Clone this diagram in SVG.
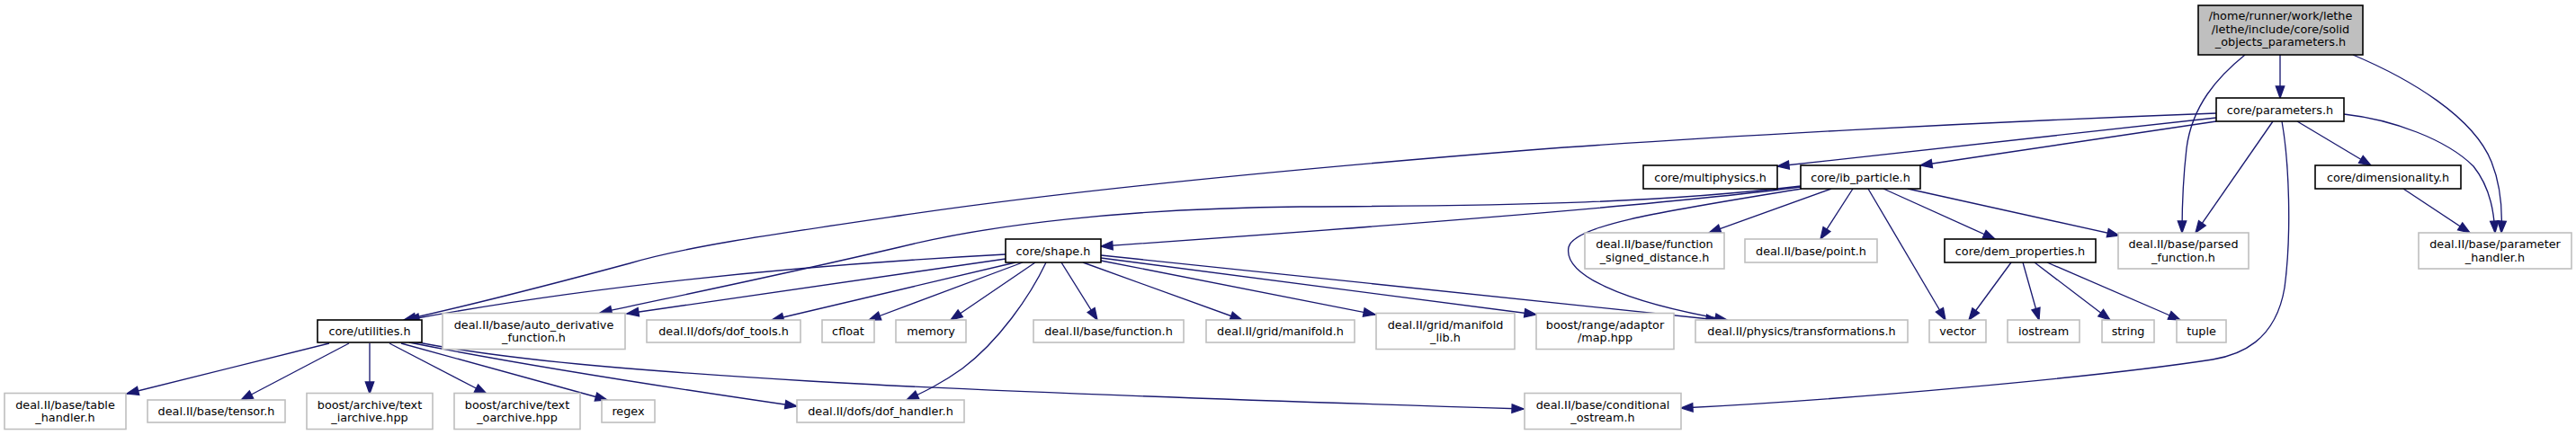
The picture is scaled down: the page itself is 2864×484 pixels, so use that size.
<svg xmlns="http://www.w3.org/2000/svg" width="2864" height="484" viewBox="0 0 2864 484">
<defs>
<marker id="ah" markerUnits="userSpaceOnUse" markerWidth="16" markerHeight="12" refX="13" refY="5" orient="auto" overflow="visible">
<path d="M0,0.3 L13,5 L0,9.7 z" fill="#191970" stroke="#191970" stroke-width="1.3"/>
</marker>
</defs>
<style>
.e{fill:none;stroke:#191970;stroke-width:1.33;marker-end:url(#ah)}
.loc{fill:#ffffff;stroke:#000000;stroke-width:1.6}
.ext{fill:#ffffff;stroke:#bfbfbf;stroke-width:1.6}
.root{fill:#bfbfbf;stroke:#000000;stroke-width:1.6}
text{font-family:"DejaVu Sans","Liberation Sans",sans-serif;font-size:12.8px;fill:#000;text-anchor:middle}
</style>
<rect x="0" y="0" width="2864" height="484" fill="#ffffff"/>
<g id="edges">
<path class="e" d="M2535,61 L2535,109"/>
<path class="e" d="M2496,61 C2465,86 2437,118 2431,165 C2427,200 2426,235 2426,259"/>
<path class="e" d="M2616,61 C2680,88 2750,130 2770,180 C2782,210 2782,240 2781,259"/>
<path class="e" d="M2606,127 C2660,133 2720,155 2750,185 C2770,210 2773,240 2774,259"/>
<path class="e" d="M2554,135 L2636,184"/>
<path class="e" d="M2527,135 L2441,259"/>
<path class="e" d="M2537,135 C2545,180 2548,260 2540,320 C2530,380 2490,395 2460,400 C2330,420 2050,445 1869,454"/>
<path class="e" d="M2464,126 C2200,136 1900,152 1700,167 C1450,187 1200,210 1000,240 C850,262 760,275 700,293 C600,320 520,340 449,356"/>
<path class="e" d="M2464,131 L1976,185"/>
<path class="e" d="M2464,135 L2135,184"/>
<path class="e" d="M2672,210 L2746,259"/>
<path class="e" d="M2002,208 C1850,228 1500,255 1224,274"/>
<path class="e" d="M2002,207 C1850,225 1700,229 1446,230 C1250,232 1100,250 1000,275 C850,310 750,330 667,348"/>
<path class="e" d="M2003,210 C1850,235 1750,250 1744,275 C1738,305 1800,335 1920,356"/>
<path class="e" d="M2036,210 L1900,259"/>
<path class="e" d="M2060,210 L2024,266"/>
<path class="e" d="M2077,210 L2163,356"/>
<path class="e" d="M2094,210 L2218,266"/>
<path class="e" d="M2121,210 L2356,262"/>
<path class="e" d="M1118,283 C950,292 700,310 453,356"/>
<path class="e" d="M1118,288 L697,349"/>
<path class="e" d="M1129,292 L858,356"/>
<path class="e" d="M1137,292 L966,356"/>
<path class="e" d="M1151,292 L1057,356"/>
<path class="e" d="M1163,292 C1145,330 1110,380 1070,410 C1045,428 1025,437 1008,445"/>
<path class="e" d="M1180,292 L1220,356"/>
<path class="e" d="M1204,292 L1381,356"/>
<path class="e" d="M1224,290 L1529,350"/>
<path class="e" d="M1224,287 L1708,350"/>
<path class="e" d="M1224,284 L1910,356"/>
<path class="e" d="M366,382 L141,438"/>
<path class="e" d="M388,382 L268,445"/>
<path class="e" d="M411,382 L411,438"/>
<path class="e" d="M433,382 L541,438"/>
<path class="e" d="M446,382 L675,445"/>
<path class="e" d="M455,381 C550,400 700,425 886,452"/>
<path class="e" d="M460,380 C560,400 700,412 900,424 C1100,436 1400,446 1694,455"/>
<path class="e" d="M2236,292 L2189,356"/>
<path class="e" d="M2249,292 L2267,356"/>
<path class="e" d="M2262,292 L2346,356"/>
<path class="e" d="M2276,292 L2424,356"/>
</g>
<g id="n_root"><rect class="root" x="2444" y="6" width="183" height="55"/><text x="2535.5" y="22">/home/runner/work/lethe</text><text x="2535.5" y="36.7">/lethe/include/core/solid</text><text x="2535.5" y="51.4">_objects_parameters.h</text></g>
<g id="n_parameters"><rect class="loc" x="2464" y="109" width="142" height="26"/><text x="2535" y="126.5">core/parameters.h</text></g>
<g id="n_multiphysics"><rect class="loc" x="1827" y="184" width="149" height="26"/><text x="1901.5" y="201.5">core/multiphysics.h</text></g>
<g id="n_ib_particle"><rect class="loc" x="2002" y="184" width="133" height="26"/><text x="2068.5" y="201.5">core/ib_particle.h</text></g>
<g id="n_dimensionality"><rect class="loc" x="2574" y="184" width="162" height="26"/><text x="2655" y="201.5">core/dimensionality.h</text></g>
<g id="n_shape"><rect class="loc" x="1118" y="266" width="106" height="26"/><text x="1171" y="283.5">core/shape.h</text></g>
<g id="n_function_signed_distance"><rect class="ext" x="1762" y="259" width="155" height="40"/><text x="1839.5" y="276.2">deal.II/base/function</text><text x="1839.5" y="290.9">_signed_distance.h</text></g>
<g id="n_point"><rect class="ext" x="1940" y="266" width="147" height="26"/><text x="2013.5" y="283.5">deal.II/base/point.h</text></g>
<g id="n_dem_properties"><rect class="loc" x="2162" y="266" width="168" height="26"/><text x="2246" y="283.5">core/dem_properties.h</text></g>
<g id="n_parsed_function"><rect class="ext" x="2355" y="259" width="145" height="40"/><text x="2427.5" y="276.2">deal.II/base/parsed</text><text x="2427.5" y="290.9">_function.h</text></g>
<g id="n_parameter_handler"><rect class="ext" x="2689" y="259" width="170" height="40"/><text x="2774" y="276.2">deal.II/base/parameter</text><text x="2774" y="290.9">_handler.h</text></g>
<g id="n_utilities"><rect class="loc" x="353" y="356" width="116" height="25"/><text x="411" y="373">core/utilities.h</text></g>
<g id="n_auto_derivative"><rect class="ext" x="492" y="348.5" width="203" height="40"/><text x="593.5" y="365.7">deal.II/base/auto_derivative</text><text x="593.5" y="380.4">_function.h</text></g>
<g id="n_dof_tools"><rect class="ext" x="719" y="356" width="171" height="25"/><text x="804.5" y="373">deal.II/dofs/dof_tools.h</text></g>
<g id="n_cfloat"><rect class="ext" x="914" y="356" width="58" height="25"/><text x="943" y="373">cfloat</text></g>
<g id="n_memory"><rect class="ext" x="996" y="356" width="78" height="25"/><text x="1035" y="373">memory</text></g>
<g id="n_function"><rect class="ext" x="1149" y="356" width="167" height="25"/><text x="1232.5" y="373">deal.II/base/function.h</text></g>
<g id="n_manifold"><rect class="ext" x="1341" y="356" width="165" height="25"/><text x="1423.5" y="373">deal.II/grid/manifold.h</text></g>
<g id="n_manifold_lib"><rect class="ext" x="1530" y="348.5" width="154" height="40"/><text x="1607" y="365.7">deal.II/grid/manifold</text><text x="1607" y="380.4">_lib.h</text></g>
<g id="n_map"><rect class="ext" x="1708" y="348.5" width="153" height="40"/><text x="1784.5" y="365.7">boost/range/adaptor</text><text x="1784.5" y="380.4">/map.hpp</text></g>
<g id="n_transformations"><rect class="ext" x="1885" y="356" width="236" height="25"/><text x="2003" y="373">deal.II/physics/transformations.h</text></g>
<g id="n_vector"><rect class="ext" x="2145" y="356" width="63" height="25"/><text x="2176.5" y="373">vector</text></g>
<g id="n_iostream"><rect class="ext" x="2232" y="356" width="80" height="25"/><text x="2272" y="373">iostream</text></g>
<g id="n_string"><rect class="ext" x="2337" y="356" width="58" height="25"/><text x="2366" y="373">string</text></g>
<g id="n_tuple"><rect class="ext" x="2420" y="356" width="55" height="25"/><text x="2447.5" y="373">tuple</text></g>
<g id="n_table_handler"><rect class="ext" x="5" y="437.5" width="135" height="40"/><text x="72.5" y="454.7">deal.II/base/table</text><text x="72.5" y="469.4">_handler.h</text></g>
<g id="n_tensor"><rect class="ext" x="164" y="445" width="153" height="25"/><text x="240.5" y="462">deal.II/base/tensor.h</text></g>
<g id="n_text_iarchive"><rect class="ext" x="341" y="437.5" width="140" height="40"/><text x="411" y="454.7">boost/archive/text</text><text x="411" y="469.4">_iarchive.hpp</text></g>
<g id="n_text_oarchive"><rect class="ext" x="505" y="437.5" width="140" height="40"/><text x="575" y="454.7">boost/archive/text</text><text x="575" y="469.4">_oarchive.hpp</text></g>
<g id="n_regex"><rect class="ext" x="669" y="445" width="59" height="25"/><text x="698.5" y="462">regex</text></g>
<g id="n_dof_handler"><rect class="ext" x="886" y="445" width="186" height="25"/><text x="979" y="462">deal.II/dofs/dof_handler.h</text></g>
<g id="n_conditional_ostream"><rect class="ext" x="1695" y="437.5" width="174" height="40"/><text x="1782" y="454.7">deal.II/base/conditional</text><text x="1782" y="469.4">_ostream.h</text></g>
</svg>
